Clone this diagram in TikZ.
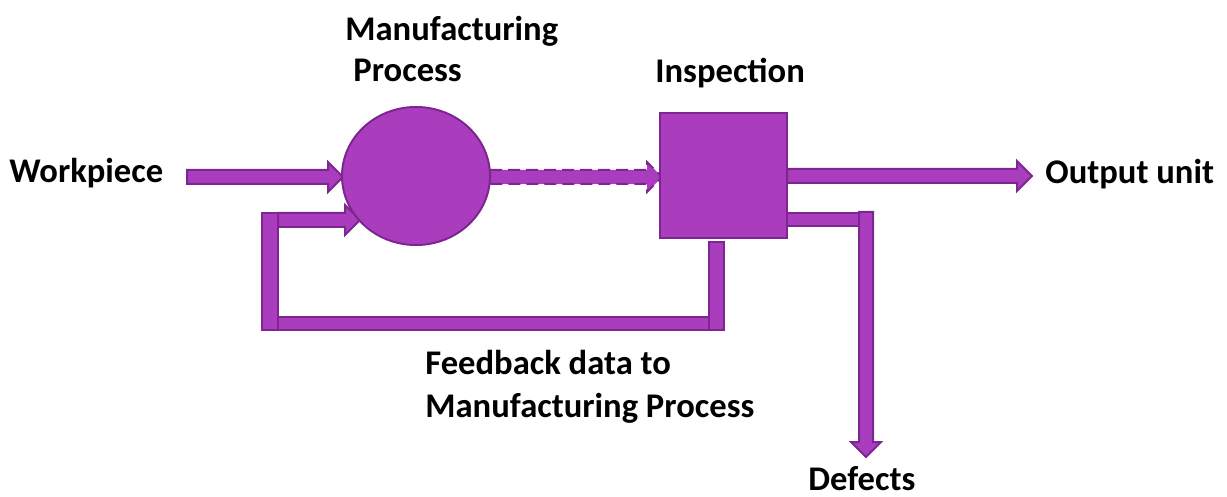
\documentclass[tikz,border=0pt]{standalone}
\usepackage{fontspec}
\setmainfont{Carlito}
\usetikzlibrary{shapes.geometric}
\definecolor{pfill}{RGB}{169,61,190}
\definecolor{pedge}{RGB}{125,38,145}
\tikzset{
  blk/.style={fill=pfill,draw=pedge,line width=1pt,line join=miter},
  lbl/.style={inner sep=0pt,anchor=base west,font=\fontsize{17.3}{21}\selectfont\bfseries},
}
\begin{document}
\begin{tikzpicture}[x=0.5pt,y=-0.5pt]
\useasboundingbox (0,0) rectangle (1227,497);
% arrows (drawn below shapes)
\draw[blk] (187,170) -- (328,170) -- (328,162) -- (343,177) -- (328,192) -- (328,184) -- (187,184) -- cycle;
\draw[blk] (278,213) -- (345,213) -- (345,205) -- (360,220) -- (345,235) -- (345,227) -- (278,227) -- cycle;
\draw[blk,dashed,dash pattern=on 6pt off 3pt] (490,170) -- (647,170) -- (647,162) -- (662,177) -- (647,192) -- (647,184) -- (490,184) -- cycle;
\draw[blk] (787,169) -- (1017,169) -- (1017,161) -- (1032,176) -- (1017,191) -- (1017,183) -- (787,183) -- cycle;
% feedback loop
\draw[blk] (262,213) rectangle (278,330);
\draw[blk] (278,317) rectangle (709,330);
\draw[blk] (709,242) rectangle (724,330);
% defects branch
\draw[blk] (787,213) rectangle (859,226);
\draw[blk] (859,212) -- (873,212) -- (873,442) -- (881,442) -- (866,457) -- (851,442) -- (859,442) -- cycle;
% main shapes
\node[blk,ellipse,minimum width=74pt,minimum height=69pt,inner sep=0pt] (mp) at (416,176) {};
\node[blk,rectangle,minimum width=63.5pt,minimum height=62.5pt,inner sep=0pt] (insp) at (723.5,175.5) {};
% labels
\node[lbl] (tw) at (9,183) {Workpiece};
\node[lbl] (tm1) at (345,41) {Manufacturing};
\node[lbl] (tm2) at (353,82) {Process};
\node[lbl] (ti) at (655,83) {Inspection};
\node[lbl] (to) at (1045,184) {Output unit};
\node[lbl] (tf1) at (425,374) {Feedback data to};
\node[lbl] (tf2) at (425,417) {Manufacturing Process};
\node[lbl] (td) at (808,490) {Defects};
\end{tikzpicture}
\end{document}
